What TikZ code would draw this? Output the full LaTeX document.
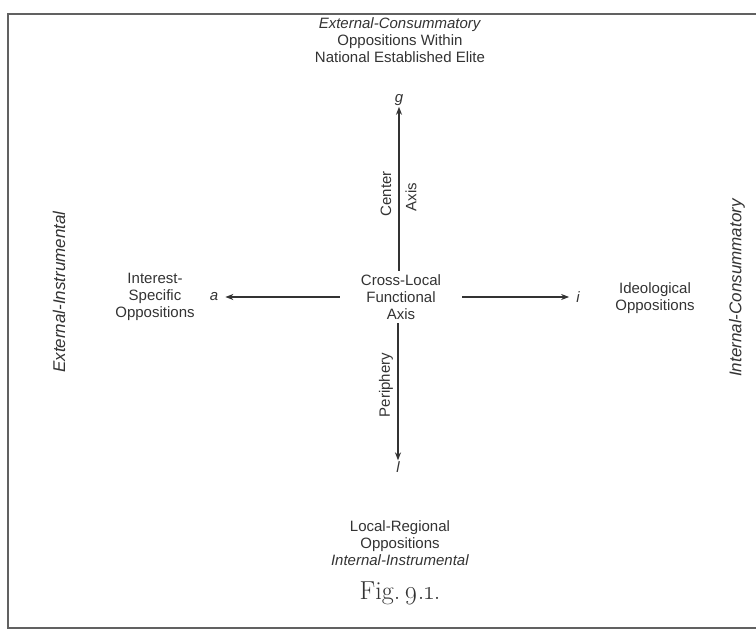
\documentclass[tikz,border=0pt]{standalone}
\usepackage{fontspec}
\setmainfont{Liberation Sans}
\newfontfamily\figfont{Latin Modern Roman}
\usetikzlibrary{arrows.meta}
\definecolor{ink}{gray}{0.2}
\definecolor{rule}{gray}{0.38}
\tikzset{
  lbl/.style={text=ink, font=\fontsize{15}{17.3}\selectfont, align=center, inner sep=1pt},
  sidelbl/.style={text=ink, font=\fontsize{17}{20}\selectfont\itshape, inner sep=1pt},
  letter/.style={text=ink, font=\fontsize{15}{18}\selectfont\itshape, inner sep=1pt},
  axisarrow/.style={draw=ink, line width=1.3pt, -{Stealth[length=8pt,width=6pt]}},
  framerule/.style={draw=rule, line width=2pt}
}
\begin{document}
\begin{tikzpicture}[x=1pt,y=-1pt]
\path[use as bounding box] (0,0) rectangle (756,631);
% frame, open on the right
\draw[framerule] (756,14) -- (8,14) -- (8,628) -- (756,628);

% headings of the four quadrants
\node[lbl] (top) at (400,40) {\textit{External-Consummatory}\\Oppositions Within\\National Established Elite};
\node[lbl] (bottom) at (400,543) {Local-Regional\\Oppositions\\\textit{Internal-Instrumental}};
\node[lbl] (left) at (155,297) {Interest-\\Specific\\Oppositions};
\node[lbl] (right) at (655,298) {Ideological\\Oppositions};
\node[sidelbl, rotate=90] (leftside) at (59,292) {External-Instrumental};
\node[sidelbl, rotate=90] (rightside) at (737,288) {Internal-Consummatory};

% centre of the cross
\node[lbl, inner xsep=21pt, inner ysep=3pt] (ctr) at (401,297) {Cross-Local\\Functional\\Axis};

% end letters
\node[letter] (g) at (399,100) {g};
\node[letter] (a) at (214,297) {a};
\node[letter] (i) at (578,297) {i};
\node[letter] (l) at (398,467) {l};

% axes
\draw[axisarrow] (ctr.north -| g) -- (g.south);
\draw[axisarrow] (ctr.south -| l) -- (l.north);
\draw[axisarrow, shorten >=6pt] (ctr.west) -- (ctr.west -| a.east);
\draw[axisarrow, shorten >=6pt] (ctr.east) -- (ctr.east -| i.west);

% axis names
\node[lbl, rotate=90] (centre) at (386,194) {Center};
\node[lbl, rotate=90] (axisname) at (411,197) {Axis};
\node[lbl, rotate=90] (periph) at (386,385) {Periphery};

% caption
\node[text=ink, font=\figfont\fontsize{26}{30}\selectfont] (fig) at (400,593) {\textsc{Fig.}\hspace{4pt}\oldstylenums{9.1.}};
\end{tikzpicture}
\end{document}
